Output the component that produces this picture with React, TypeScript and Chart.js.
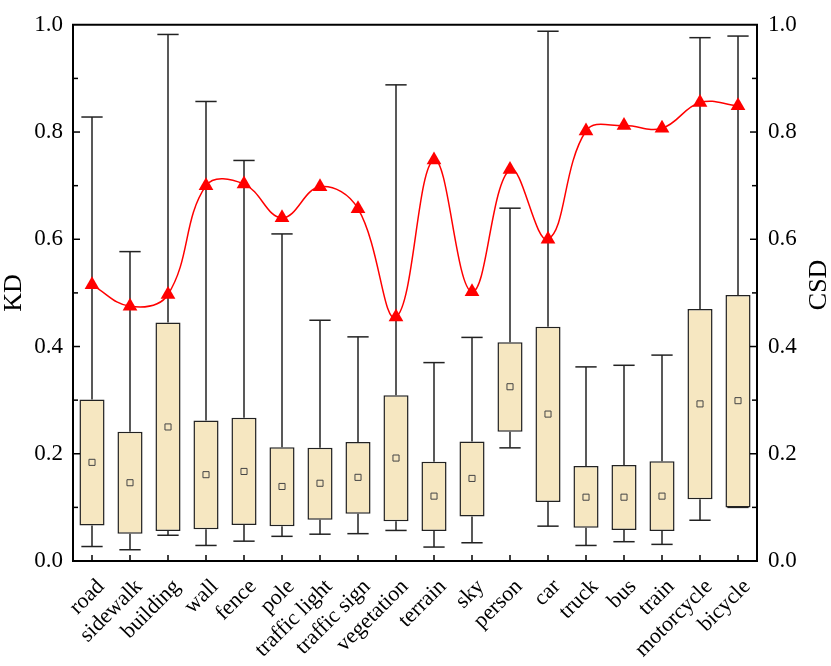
import React, { useEffect, useRef } from 'react';
import { Chart, registerables } from 'chart.js';
Chart.register(...registerables);

const categories = ['road', 'sidewalk', 'building', 'wall', 'fence', 'pole', 'traffic light', 'traffic sign', 'vegetation', 'terrain', 'sky', 'person', 'car', 'truck', 'bus', 'train', 'motorcycle', 'bicycle'];
const kdMin = [0.027, 0.021, 0.048, 0.029, 0.037, 0.046, 0.050, 0.051, 0.057, 0.026, 0.034, 0.211, 0.065, 0.029, 0.036, 0.031, 0.076, 0.100];
const kdQ1 = [0.066, 0.051, 0.056, 0.059, 0.067, 0.065, 0.077, 0.088, 0.074, 0.056, 0.083, 0.241, 0.110, 0.062, 0.058, 0.056, 0.115, 0.100];
const kdQ3 = [0.301, 0.241, 0.445, 0.262, 0.267, 0.212, 0.211, 0.222, 0.309, 0.185, 0.223, 0.408, 0.437, 0.177, 0.179, 0.186, 0.470, 0.496];
const kdMax = [0.828, 0.577, 0.982, 0.857, 0.747, 0.610, 0.449, 0.418, 0.888, 0.370, 0.417, 0.658, 0.988, 0.362, 0.365, 0.384, 0.976, 0.979];
const kdMean = [0.184, 0.146, 0.250, 0.161, 0.167, 0.139, 0.145, 0.156, 0.192, 0.121, 0.154, 0.325, 0.274, 0.119, 0.119, 0.121, 0.293, 0.299];
const csd = [0.515, 0.475, 0.497, 0.700, 0.703, 0.640, 0.698, 0.657, 0.455, 0.748, 0.502, 0.730, 0.600, 0.802, 0.812, 0.807, 0.855, 0.849];
const leftTitle = 'KD';
const rightTitle = 'CSD';

const FONT = '"Liberation Serif", "Times New Roman", serif';
const INK = '#222222';

const whiskerPlugin = {
  id: 'whiskers',
  beforeDatasetsDraw(chart: any) {
    const { ctx } = chart;
    const x = chart.scales.x;
    const y = chart.scales.y;
    const cw = x.getPixelForValue(1) - x.getPixelForValue(0);
    const half = cw * 0.28;
    ctx.save();
    ctx.strokeStyle = INK;
    ctx.lineWidth = 1.5;
    for (let i = 0; i < categories.length; i++) {
      const px = x.getPixelForValue(i);
      const segs: [number, number][] = [[kdQ3[i], kdMax[i]], [kdMin[i], kdQ1[i]]];
      for (const [a, b] of segs) {
        if (Math.abs(a - b) < 1e-6) continue;
        ctx.beginPath();
        ctx.moveTo(px, y.getPixelForValue(a));
        ctx.lineTo(px, y.getPixelForValue(b));
        ctx.stroke();
      }
      const caps = [kdMax[i], kdMin[i]];
      for (const c of caps) {
        const py = y.getPixelForValue(c);
        ctx.beginPath();
        ctx.moveTo(px - half, py);
        ctx.lineTo(px + half, py);
        ctx.stroke();
      }
    }
    ctx.restore();
  },
};

const framePlugin = {
  id: 'frame',
  afterDraw(chart: any) {
    const { ctx, chartArea } = chart;
    const x = chart.scales.x;
    const y = chart.scales.y;
    const y1 = chart.scales.y1;
    ctx.save();
    ctx.strokeStyle = '#000';
    ctx.lineWidth = 2;
    ctx.beginPath();
    ctx.moveTo(chartArea.left - 1, chartArea.top);
    ctx.lineTo(chartArea.right + 1, chartArea.top);
    ctx.stroke();
    ctx.lineWidth = 1.5;
    for (let k = 0; k <= 10; k++) {
      const v = k / 10;
      const len = k % 2 === 0 ? 7 : 5;
      const py = y.getPixelForValue(v);
      if (k > 0 && k < 10) {
        ctx.beginPath();
        ctx.moveTo(chartArea.left, py);
        ctx.lineTo(chartArea.left + len, py);
        ctx.stroke();
        const py1 = y1.getPixelForValue(v);
        ctx.beginPath();
        ctx.moveTo(chartArea.right, py1);
        ctx.lineTo(chartArea.right - len, py1);
        ctx.stroke();
      }
    }
    for (let i = 0; i < categories.length; i++) {
      const px = x.getPixelForValue(i);
      ctx.beginPath();
      ctx.moveTo(px, chartArea.bottom);
      ctx.lineTo(px, chartArea.bottom - 6);
      ctx.stroke();
    }
    ctx.fillStyle = '#000';
    ctx.font = '26px ' + FONT;
    ctx.textAlign = 'center';
    ctx.textBaseline = 'middle';
    const cy = (chartArea.top + chartArea.bottom) / 2;
    ctx.save();
    ctx.translate(14, cy);
    ctx.rotate(-Math.PI / 2);
    ctx.fillText(leftTitle, 0, 0);
    ctx.restore();
    ctx.save();
    ctx.translate(819, cy - 8);
    ctx.rotate(-Math.PI / 2);
    ctx.fillText(rightTitle, 0, 0);
    ctx.restore();
    ctx.restore();
  },
};

export default function App() {
  const ref = useRef<HTMLCanvasElement | null>(null);
  useEffect(() => {
    if (!ref.current) return;
    Chart.defaults.font.family = FONT;
    const chart = new Chart(ref.current, {
      data: {
        labels: categories,
        datasets: [
          {
            type: 'line',
            label: 'CSD',
            data: csd,
            yAxisID: 'y1',
            borderColor: '#ff0000',
            borderWidth: 1.5,
            backgroundColor: '#ff0000',
            pointStyle: 'triangle',
            pointRadius: 8.5,
            pointBorderWidth: 0,
            tension: 0.4,
            order: 1,
          } as any,
          {
            type: 'line',
            label: 'mean',
            data: kdMean,
            yAxisID: 'y',
            showLine: false,
            pointStyle: 'rect',
            pointRadius: 4.3,
            pointBorderWidth: 1,
            pointBorderColor: '#444',
            pointBackgroundColor: 'rgba(0,0,0,0)',
            order: 2,
          } as any,
          {
            type: 'bar',
            label: 'KD',
            data: kdQ1.map((v, i) => [v, kdQ3[i]]),
            yAxisID: 'y',
            backgroundColor: 'rgb(246,231,193)',
            borderColor: INK,
            borderWidth: 1.5,
            borderSkipped: false,
            barPercentage: 0.66,
            categoryPercentage: 1,
            order: 3,
          } as any,
        ],
      },
      options: {
        responsive: false,
        animation: false,
        layout: { padding: { top: 10, left: 0, right: 0, bottom: 0 } },
        plugins: { legend: { display: false }, tooltip: { enabled: false } },
        scales: {
          x: {
            type: 'category',
            offset: true,
            grid: { display: false, drawTicks: false },
            border: { display: true, color: '#000', width: 2 },
            ticks: {
              autoSkip: false,
              maxRotation: 45,
              minRotation: 45,
              padding: 13,
              labelOffset: 9,
              color: '#000',
              font: { size: 22, family: FONT },
            },
            afterFit: (s: any) => { s.height = 105; },
          },
          y: {
            type: 'linear',
            position: 'left',
            min: 0,
            max: 1,
            grid: { display: false, drawTicks: false },
            border: { display: true, color: '#000', width: 2 },
            ticks: {
              stepSize: 0.2,
              padding: 10,
              color: '#000',
              font: { size: 23, family: FONT },
              callback: (v: any) => Number(v).toFixed(1),
            },
            afterFit: (s: any) => { s.width = 73; },
          },
          y1: {
            type: 'linear',
            position: 'right',
            min: 0,
            max: 1,
            grid: { display: false, drawTicks: false },
            border: { display: true, color: '#000', width: 2 },
            ticks: {
              stepSize: 0.2,
              padding: 11,
              color: '#000',
              font: { size: 23, family: FONT },
              callback: (v: any) => Number(v).toFixed(1),
            },
            afterFit: (s: any) => { s.width = 74; },
          },
        },
      },
      plugins: [whiskerPlugin, framePlugin],
    } as any);
    return () => chart.destroy();
  }, []);
  return (
    <div style={{ position: 'absolute', left: 0, top: 0, width: 831, height: 666 }}>
      <canvas ref={ref} width={831} height={666} />
    </div>
  );
}
